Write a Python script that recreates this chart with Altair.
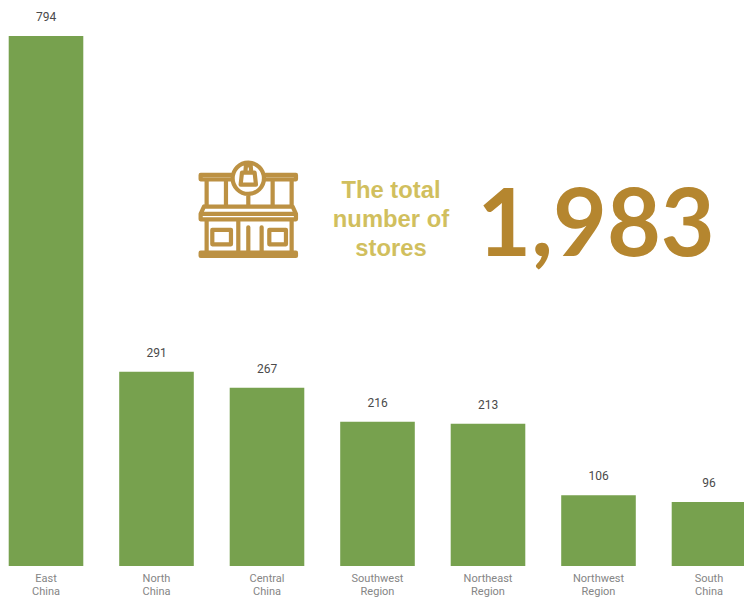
import altair as alt
import pandas as pd

regions = ["East China", "North China", "Central China", "Southwest Region",
           "Northeast Region", "Northwest Region", "South China"]
stores = [794, 291, 267, 216, 213, 106, 96]
caption_lines = ["The total", "number of", "stores"]
total_stores = [1983]

GREEN = "#77a14e"
GOLD = "#b5862f"
KHAKI = "#d1bf5e"


def p(x, y):
    # storefront glyph is laid out on a 300-unit grid centred on (205, 175)
    return f"{(x - 205) / 150:.4f},{(y - 175) / 150:.4f}"


def rect(x0, y0, x1, y1):
    return (f"M{p(x0, y0)}L{p(x1, y0)}L{p(x1, y1)}L{p(x0, y1)}Z")


def line(*pts):
    return "M" + "L".join(p(x, y) for x, y in pts)


def circle(cx, cy, r):
    rr = r / 150
    return (f"M{p(cx - r, cy)}A{rr:.4f},{rr:.4f} 0 1,1 {p(cx + r, cy)}"
            f"A{rr:.4f},{rr:.4f} 0 1,1 {p(cx - r, cy)}Z")


store_icon = " ".join([
    line((62, 75), (158, 75)), line((62, 88), (158, 88)), line((62, 75), (62, 88)),
    line((252, 75), (348, 75)), line((252, 88), (348, 88)), line((348, 75), (348, 88)),
    circle(205, 85, 47),
    line((182, 104), (228, 104), (224, 68), (186, 68), (182, 104)),
    line((196, 68), (198, 46), (212, 46), (214, 68)),
    line((80, 88), (80, 168)), line((138, 88), (138, 168)),
    line((278, 88), (278, 168)), line((335, 88), (335, 168)),
    line((205, 132), (205, 168)),
    line((72, 170), (338, 170), (348, 192), (348, 208), (62, 208), (62, 192), (72, 170)),
    line((62, 192), (348, 192)),
    line((80, 208), (80, 305)), line((335, 208), (335, 305)),
    rect(97, 240, 153, 283),
    line((175, 208), (175, 305)), line((205, 232), (205, 305)), line((245, 232), (245, 305)),
    rect(268, 240, 318, 283),
    rect(62, 308, 348, 318),
])

bars_df = pd.DataFrame({"region": regions, "stores": stores})

x_scale = alt.Scale(domain=regions, range=[-9.25, 764.25], paddingInner=0.325, paddingOuter=0.1625)
y_scale = alt.Scale(domain=[0, 848], nice=False, zero=True)

x_enc = alt.X(
    "region:N",
    sort=None,
    scale=x_scale,
    title=None,
    axis=alt.Axis(
        domain=False,
        ticks=False,
        grid=False,
        labelAngle=0,
        labelExpr="split(datum.label, ' ')",
        labelFont="Roboto",
        labelFontSize=11,
        labelLineHeight=13,
        labelColor="#858585",
        labelPadding=6,
        labelOverlap=False,
        labelBound=False,
        labelFlush=False,
    ),
)
y_enc = alt.Y("stores:Q", scale=y_scale, axis=None)

bars = alt.Chart(bars_df).mark_bar(color=GREEN).encode(x=x_enc, y=y_enc)

values = alt.Chart(bars_df).mark_text(
    baseline="bottom", dy=-12, font="Roboto", fontSize=12, color="#4a4a4a"
).encode(x=x_enc, y=y_enc, text="stores:Q")

icon = alt.Chart(pd.DataFrame({"k": ["store"]})).mark_point(
    shape=store_icon, size=10000, filled=False, stroke=GOLD, strokeWidth=4.2,
    strokeJoin="round", strokeCap="round", opacity=0.9,
).encode(x=alt.value(248.3), y=alt.value(208.3))

caption = alt.Chart(pd.DataFrame({"t": caption_lines, "row": [0, 1, 2]})).mark_text(
    font="Liberation Sans", fontWeight="bold", fontSize=23.8, color=KHAKI, align="center", baseline="middle"
).encode(
    x=alt.value(391),
    y=alt.Y("row:Q", scale=alt.Scale(domain=[0, 2], range=[191, 249]), axis=None),
    text="t:N",
)

headline = alt.Chart(pd.DataFrame({"total": total_stores})).mark_text(
    font="Lato", fontWeight="bold", fontSize=93, color=GOLD, align="center", baseline="middle"
).encode(
    x=alt.value(596),
    y=alt.value(228),
    text=alt.Text("total:Q", format=","),
)

chart = (
    alt.layer(bars, values, icon, caption, headline)
    .resolve_scale(y="independent")
    .properties(
        width=744,
        height=566,
        padding={"left": 0, "top": 0, "right": 0, "bottom": 31},
        autosize=alt.AutoSizeParams(type="none"),
        background="white",
    )
    .configure_view(stroke=None)
)

chart.save("out.html", embed_options={"renderer": "svg", "actions": False})
